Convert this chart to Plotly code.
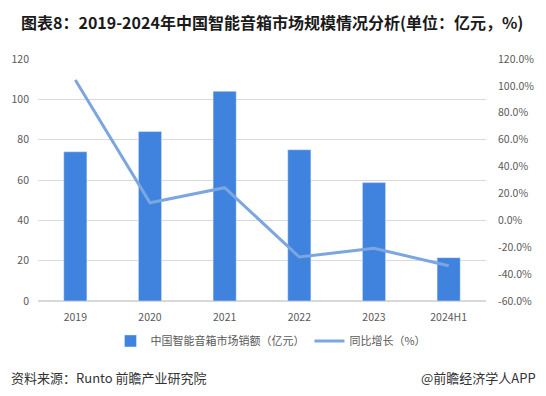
import plotly.graph_objects as go

categories = ["2019", "2020", "2021", "2022", "2023", "2024H1"]
sales = [74, 84, 104, 75, 58.7, 21.5]
growth = [104.4, 13.1, 24.3, -27.3, -20.8, -33.8]

bar_name = "中国智能音箱市场销额（亿元）"
line_name = "同比增长（%）"
title_text = "图表8：2019-2024年中国智能音箱市场规模情况分析(单位：亿元，%)"
source_text = "资料来源：Runto 前瞻产业研究院"
brand_text = "@前瞻经济学人APP"

left_ticks = [0, 20, 40, 60, 80, 100, 120]
right_ticks = [-60, -40, -20, 0, 20, 40, 60, 80, 100, 120]
right_labels = [f"{v:.1f}%" for v in right_ticks]

FONT = "Noto Sans CJK SC"
TICK_COLOR = "#595959"

fig = go.Figure()
fig.add_trace(go.Bar(
    x=categories, y=sales, name=bar_name,
    marker=dict(color="#3F83DE"), yaxis="y",
))
fig.add_trace(go.Scatter(
    x=categories, y=growth, name=line_name, mode="lines",
    line=dict(color="#7CA6DF", width=3), yaxis="y2",
))

L, R, T, B = 37, 57, 59, 95
W, H = 546, 396
fig.update_layout(
    width=W, height=H,
    margin=dict(l=L, r=R, t=T, b=B),
    paper_bgcolor="white", plot_bgcolor="white",
    font=dict(family=FONT, size=11, color=TICK_COLOR),
    bargap=0.69,
    showlegend=True,
    legend=dict(orientation="h", x=0.52, xanchor="center", y=-0.165, yanchor="middle",
                font=dict(size=11, color=TICK_COLOR), itemwidth=30, traceorder="normal"),
    xaxis=dict(showgrid=False, showline=False, ticks="", ticklabelstandoff=8,
               tickfont=dict(size=10.5, color=TICK_COLOR)),
    yaxis=dict(range=[0, 120], tickvals=left_ticks, showgrid=True, gridcolor="#D9D9D9",
               gridwidth=1, zeroline=True, zerolinecolor="#D9D9D9", showline=False,
               tickfont=dict(size=10.5, color=TICK_COLOR), ticklabelstandoff=8),
    yaxis2=dict(range=[-60, 120], tickvals=right_ticks, ticktext=right_labels, overlaying="y",
                side="right", showgrid=False, zeroline=False, showline=False,
                tickfont=dict(size=10.5, color=TICK_COLOR), ticklabelstandoff=11),
)
pw, ph = W - L - R, H - T - B
def px(x): return (x - L) / pw
def py(y): return (H - B - y) / ph
fig.add_annotation(text=f"<b>{title_text}</b>", x=px(18), y=py(22), xref="paper", yref="paper",
                   showarrow=False, font=dict(size=16, color="#1a1a1a", family=FONT),
                   xanchor="left", yanchor="middle")
fig.add_annotation(text=source_text, x=px(8), y=py(377), xref="paper", yref="paper",
                   showarrow=False, font=dict(size=13, color="#333333", family=FONT),
                   xanchor="left", yanchor="middle")
fig.add_annotation(text=brand_text, x=px(541), y=py(377), xref="paper", yref="paper",
                   showarrow=False, font=dict(size=13, color="#333333", family=FONT),
                   xanchor="right", yanchor="middle")

fig.write_html("out.html", config={"displayModeBar": False},
               post_script="document.body.style.margin='0';")
